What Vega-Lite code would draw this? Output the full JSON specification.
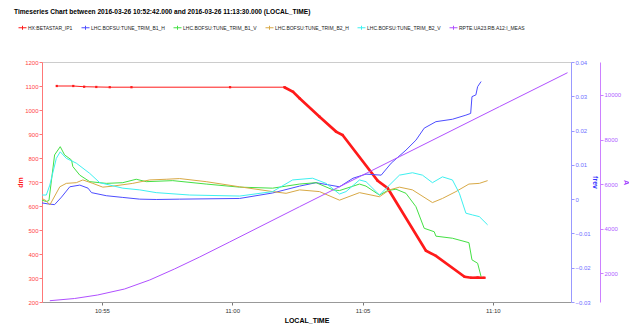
{
  "$schema": "https://vega.github.io/schema/vega-lite/v6.json",
  "width": 529,
  "height": 240,
  "autosize": {"type": "none"},
  "padding": {"left": 42, "top": 62, "right": 58, "bottom": 23},
  "background": "white",
  "title": {
    "text": "Timeseries Chart between 2016-03-26 10:52:42.000 and 2016-03-26 11:13:30.000 (LOCAL_TIME)",
    "anchor": "start",
    "frame": "group",
    "dx": -28,
    "fontSize": 6.6,
    "fontWeight": "bold",
    "color": "#000000",
    "offset": 7
  },
  "config": {
    "font": "Liberation Sans, Arial, sans-serif",
    "view": {"stroke": "#cccccc", "strokeWidth": 1},
    "axis": {"grid": false}
  },
  "data": {
    "format": {"parse": {"time": "date"}},
    "values": [
      {"series": "HX:BETASTAR_IP1", "time": "2016-03-26T10:53:16", "value": 1100},
      {"series": "HX:BETASTAR_IP1", "time": "2016-03-26T10:53:54", "value": 1100},
      {"series": "HX:BETASTAR_IP1", "time": "2016-03-26T10:54:19", "value": 1097},
      {"series": "HX:BETASTAR_IP1", "time": "2016-03-26T10:54:47", "value": 1096},
      {"series": "HX:BETASTAR_IP1", "time": "2016-03-26T10:55:18", "value": 1095},
      {"series": "HX:BETASTAR_IP1", "time": "2016-03-26T10:56:08", "value": 1095},
      {"series": "HX:BETASTAR_IP1", "time": "2016-03-26T10:59:55", "value": 1095},
      {"series": "HX:BETASTAR_IP1", "time": "2016-03-26T11:02:00", "value": 1095},
      {"series": "HX:BETASTAR_IP1", "time": "2016-03-26T11:02:20", "value": 1076},
      {"series": "HX:BETASTAR_IP1", "time": "2016-03-26T11:02:35", "value": 1049},
      {"series": "HX:BETASTAR_IP1", "time": "2016-03-26T11:03:21", "value": 972},
      {"series": "HX:BETASTAR_IP1", "time": "2016-03-26T11:03:59", "value": 910},
      {"series": "HX:BETASTAR_IP1", "time": "2016-03-26T11:04:14", "value": 896},
      {"series": "HX:BETASTAR_IP1", "time": "2016-03-26T11:05:35", "value": 705},
      {"series": "HX:BETASTAR_IP1", "time": "2016-03-26T11:05:58", "value": 674},
      {"series": "HX:BETASTAR_IP1", "time": "2016-03-26T11:07:26", "value": 414},
      {"series": "HX:BETASTAR_IP1", "time": "2016-03-26T11:07:49", "value": 392},
      {"series": "HX:BETASTAR_IP1", "time": "2016-03-26T11:08:55", "value": 305},
      {"series": "HX:BETASTAR_IP1", "time": "2016-03-26T11:09:10", "value": 301},
      {"series": "HX:BETASTAR_IP1", "time": "2016-03-26T11:09:25", "value": 302},
      {"series": "HX:BETASTAR_IP1", "time": "2016-03-26T11:09:41", "value": 301},

      {"series": "LHC.BOFSU:TUNE_TRIM_B1_H", "time": "2016-03-26T10:52:42", "value": -0.0011},
      {"series": "LHC.BOFSU:TUNE_TRIM_B1_H", "time": "2016-03-26T10:52:56", "value": -0.0014},
      {"series": "LHC.BOFSU:TUNE_TRIM_B1_H", "time": "2016-03-26T10:53:11", "value": -0.0016},
      {"series": "LHC.BOFSU:TUNE_TRIM_B1_H", "time": "2016-03-26T10:53:27", "value": 0.0006},
      {"series": "LHC.BOFSU:TUNE_TRIM_B1_H", "time": "2016-03-26T10:53:46", "value": 0.0036},
      {"series": "LHC.BOFSU:TUNE_TRIM_B1_H", "time": "2016-03-26T10:54:09", "value": 0.0041},
      {"series": "LHC.BOFSU:TUNE_TRIM_B1_H", "time": "2016-03-26T10:54:28", "value": 0.0032},
      {"series": "LHC.BOFSU:TUNE_TRIM_B1_H", "time": "2016-03-26T10:54:36", "value": 0.0019},
      {"series": "LHC.BOFSU:TUNE_TRIM_B1_H", "time": "2016-03-26T10:55:10", "value": 0.0010},
      {"series": "LHC.BOFSU:TUNE_TRIM_B1_H", "time": "2016-03-26T10:55:48", "value": 0.0005},
      {"series": "LHC.BOFSU:TUNE_TRIM_B1_H", "time": "2016-03-26T10:56:27", "value": 0.0000},
      {"series": "LHC.BOFSU:TUNE_TRIM_B1_H", "time": "2016-03-26T10:57:05", "value": -0.0001},
      {"series": "LHC.BOFSU:TUNE_TRIM_B1_H", "time": "2016-03-26T10:57:59", "value": 0.0000},
      {"series": "LHC.BOFSU:TUNE_TRIM_B1_H", "time": "2016-03-26T11:00:17", "value": 0.0002},
      {"series": "LHC.BOFSU:TUNE_TRIM_B1_H", "time": "2016-03-26T11:01:33", "value": 0.0018},
      {"series": "LHC.BOFSU:TUNE_TRIM_B1_H", "time": "2016-03-26T11:02:35", "value": 0.0038},
      {"series": "LHC.BOFSU:TUNE_TRIM_B1_H", "time": "2016-03-26T11:03:13", "value": 0.0048},
      {"series": "LHC.BOFSU:TUNE_TRIM_B1_H", "time": "2016-03-26T11:04:07", "value": 0.0036},
      {"series": "LHC.BOFSU:TUNE_TRIM_B1_H", "time": "2016-03-26T11:04:38", "value": 0.0061},
      {"series": "LHC.BOFSU:TUNE_TRIM_B1_H", "time": "2016-03-26T11:05:08", "value": 0.0073},
      {"series": "LHC.BOFSU:TUNE_TRIM_B1_H", "time": "2016-03-26T11:05:43", "value": 0.0070},
      {"series": "LHC.BOFSU:TUNE_TRIM_B1_H", "time": "2016-03-26T11:06:06", "value": 0.0105},
      {"series": "LHC.BOFSU:TUNE_TRIM_B1_H", "time": "2016-03-26T11:06:40", "value": 0.0143},
      {"series": "LHC.BOFSU:TUNE_TRIM_B1_H", "time": "2016-03-26T11:07:03", "value": 0.0172},
      {"series": "LHC.BOFSU:TUNE_TRIM_B1_H", "time": "2016-03-26T11:07:22", "value": 0.0207},
      {"series": "LHC.BOFSU:TUNE_TRIM_B1_H", "time": "2016-03-26T11:07:49", "value": 0.0226},
      {"series": "LHC.BOFSU:TUNE_TRIM_B1_H", "time": "2016-03-26T11:08:27", "value": 0.0233},
      {"series": "LHC.BOFSU:TUNE_TRIM_B1_H", "time": "2016-03-26T11:08:58", "value": 0.0245},
      {"series": "LHC.BOFSU:TUNE_TRIM_B1_H", "time": "2016-03-26T11:09:09", "value": 0.0250},
      {"series": "LHC.BOFSU:TUNE_TRIM_B1_H", "time": "2016-03-26T11:09:12", "value": 0.0299},
      {"series": "LHC.BOFSU:TUNE_TRIM_B1_H", "time": "2016-03-26T11:09:21", "value": 0.0304},
      {"series": "LHC.BOFSU:TUNE_TRIM_B1_H", "time": "2016-03-26T11:09:25", "value": 0.0328},
      {"series": "LHC.BOFSU:TUNE_TRIM_B1_H", "time": "2016-03-26T11:09:33", "value": 0.0343},

      {"series": "LHC.BOFSU:TUNE_TRIM_B1_V", "time": "2016-03-26T10:52:42", "value": -0.0003},
      {"series": "LHC.BOFSU:TUNE_TRIM_B1_V", "time": "2016-03-26T10:52:52", "value": -0.0007},
      {"series": "LHC.BOFSU:TUNE_TRIM_B1_V", "time": "2016-03-26T10:52:58", "value": -0.0004},
      {"series": "LHC.BOFSU:TUNE_TRIM_B1_V", "time": "2016-03-26T10:53:11", "value": 0.0129},
      {"series": "LHC.BOFSU:TUNE_TRIM_B1_V", "time": "2016-03-26T10:53:24", "value": 0.0153},
      {"series": "LHC.BOFSU:TUNE_TRIM_B1_V", "time": "2016-03-26T10:53:34", "value": 0.0129},
      {"series": "LHC.BOFSU:TUNE_TRIM_B1_V", "time": "2016-03-26T10:53:50", "value": 0.0114},
      {"series": "LHC.BOFSU:TUNE_TRIM_B1_V", "time": "2016-03-26T10:53:53", "value": 0.0095},
      {"series": "LHC.BOFSU:TUNE_TRIM_B1_V", "time": "2016-03-26T10:54:09", "value": 0.0070},
      {"series": "LHC.BOFSU:TUNE_TRIM_B1_V", "time": "2016-03-26T10:54:32", "value": 0.0051},
      {"series": "LHC.BOFSU:TUNE_TRIM_B1_V", "time": "2016-03-26T10:55:10", "value": 0.0046},
      {"series": "LHC.BOFSU:TUNE_TRIM_B1_V", "time": "2016-03-26T10:55:48", "value": 0.0048},
      {"series": "LHC.BOFSU:TUNE_TRIM_B1_V", "time": "2016-03-26T10:56:19", "value": 0.0058},
      {"series": "LHC.BOFSU:TUNE_TRIM_B1_V", "time": "2016-03-26T10:56:42", "value": 0.0051},
      {"series": "LHC.BOFSU:TUNE_TRIM_B1_V", "time": "2016-03-26T10:57:43", "value": 0.0054},
      {"series": "LHC.BOFSU:TUNE_TRIM_B1_V", "time": "2016-03-26T10:59:00", "value": 0.0044},
      {"series": "LHC.BOFSU:TUNE_TRIM_B1_V", "time": "2016-03-26T11:00:17", "value": 0.0035},
      {"series": "LHC.BOFSU:TUNE_TRIM_B1_V", "time": "2016-03-26T11:01:33", "value": 0.0032},
      {"series": "LHC.BOFSU:TUNE_TRIM_B1_V", "time": "2016-03-26T11:02:04", "value": 0.0038},
      {"series": "LHC.BOFSU:TUNE_TRIM_B1_V", "time": "2016-03-26T11:02:35", "value": 0.0044},
      {"series": "LHC.BOFSU:TUNE_TRIM_B1_V", "time": "2016-03-26T11:03:13", "value": 0.0048},
      {"series": "LHC.BOFSU:TUNE_TRIM_B1_V", "time": "2016-03-26T11:03:52", "value": 0.0027},
      {"series": "LHC.BOFSU:TUNE_TRIM_B1_V", "time": "2016-03-26T11:04:07", "value": 0.0025},
      {"series": "LHC.BOFSU:TUNE_TRIM_B1_V", "time": "2016-03-26T11:04:53", "value": 0.0044},
      {"series": "LHC.BOFSU:TUNE_TRIM_B1_V", "time": "2016-03-26T11:05:08", "value": 0.0038},
      {"series": "LHC.BOFSU:TUNE_TRIM_B1_V", "time": "2016-03-26T11:05:39", "value": 0.0012},
      {"series": "LHC.BOFSU:TUNE_TRIM_B1_V", "time": "2016-03-26T11:05:58", "value": 0.0025},
      {"series": "LHC.BOFSU:TUNE_TRIM_B1_V", "time": "2016-03-26T11:06:17", "value": 0.0029},
      {"series": "LHC.BOFSU:TUNE_TRIM_B1_V", "time": "2016-03-26T11:06:40", "value": 0.0017},
      {"series": "LHC.BOFSU:TUNE_TRIM_B1_V", "time": "2016-03-26T11:07:03", "value": -0.0022},
      {"series": "LHC.BOFSU:TUNE_TRIM_B1_V", "time": "2016-03-26T11:07:22", "value": -0.0085},
      {"series": "LHC.BOFSU:TUNE_TRIM_B1_V", "time": "2016-03-26T11:07:45", "value": -0.0095},
      {"series": "LHC.BOFSU:TUNE_TRIM_B1_V", "time": "2016-03-26T11:07:49", "value": -0.0108},
      {"series": "LHC.BOFSU:TUNE_TRIM_B1_V", "time": "2016-03-26T11:08:27", "value": -0.0114},
      {"series": "LHC.BOFSU:TUNE_TRIM_B1_V", "time": "2016-03-26T11:09:05", "value": -0.0127},
      {"series": "LHC.BOFSU:TUNE_TRIM_B1_V", "time": "2016-03-26T11:09:12", "value": -0.0177},
      {"series": "LHC.BOFSU:TUNE_TRIM_B1_V", "time": "2016-03-26T11:09:25", "value": -0.0187},
      {"series": "LHC.BOFSU:TUNE_TRIM_B1_V", "time": "2016-03-26T11:09:33", "value": -0.0226},

      {"series": "LHC.BOFSU:TUNE_TRIM_B2_H", "time": "2016-03-26T10:52:42", "value": 0.0002},
      {"series": "LHC.BOFSU:TUNE_TRIM_B2_H", "time": "2016-03-26T10:52:52", "value": -0.0005},
      {"series": "LHC.BOFSU:TUNE_TRIM_B2_H", "time": "2016-03-26T10:53:00", "value": -0.0017},
      {"series": "LHC.BOFSU:TUNE_TRIM_B2_H", "time": "2016-03-26T10:53:23", "value": 0.0036},
      {"series": "LHC.BOFSU:TUNE_TRIM_B2_H", "time": "2016-03-26T10:53:38", "value": 0.0046},
      {"series": "LHC.BOFSU:TUNE_TRIM_B2_H", "time": "2016-03-26T10:54:01", "value": 0.0048},
      {"series": "LHC.BOFSU:TUNE_TRIM_B2_H", "time": "2016-03-26T10:54:16", "value": 0.0056},
      {"series": "LHC.BOFSU:TUNE_TRIM_B2_H", "time": "2016-03-26T10:54:39", "value": 0.0046},
      {"series": "LHC.BOFSU:TUNE_TRIM_B2_H", "time": "2016-03-26T10:55:02", "value": 0.0035},
      {"series": "LHC.BOFSU:TUNE_TRIM_B2_H", "time": "2016-03-26T10:55:25", "value": 0.0038},
      {"series": "LHC.BOFSU:TUNE_TRIM_B2_H", "time": "2016-03-26T10:56:11", "value": 0.0046},
      {"series": "LHC.BOFSU:TUNE_TRIM_B2_H", "time": "2016-03-26T10:56:50", "value": 0.0056},
      {"series": "LHC.BOFSU:TUNE_TRIM_B2_H", "time": "2016-03-26T10:57:28", "value": 0.0058},
      {"series": "LHC.BOFSU:TUNE_TRIM_B2_H", "time": "2016-03-26T10:57:59", "value": 0.0060},
      {"series": "LHC.BOFSU:TUNE_TRIM_B2_H", "time": "2016-03-26T10:59:00", "value": 0.0051},
      {"series": "LHC.BOFSU:TUNE_TRIM_B2_H", "time": "2016-03-26T11:00:17", "value": 0.0036},
      {"series": "LHC.BOFSU:TUNE_TRIM_B2_H", "time": "2016-03-26T11:01:33", "value": 0.0022},
      {"series": "LHC.BOFSU:TUNE_TRIM_B2_H", "time": "2016-03-26T11:02:04", "value": 0.0017},
      {"series": "LHC.BOFSU:TUNE_TRIM_B2_H", "time": "2016-03-26T11:02:35", "value": 0.0027},
      {"series": "LHC.BOFSU:TUNE_TRIM_B2_H", "time": "2016-03-26T11:03:21", "value": 0.0022},
      {"series": "LHC.BOFSU:TUNE_TRIM_B2_H", "time": "2016-03-26T11:04:07", "value": -0.0003},
      {"series": "LHC.BOFSU:TUNE_TRIM_B2_H", "time": "2016-03-26T11:04:53", "value": 0.0019},
      {"series": "LHC.BOFSU:TUNE_TRIM_B2_H", "time": "2016-03-26T11:05:39", "value": 0.0007},
      {"series": "LHC.BOFSU:TUNE_TRIM_B2_H", "time": "2016-03-26T11:06:02", "value": 0.0027},
      {"series": "LHC.BOFSU:TUNE_TRIM_B2_H", "time": "2016-03-26T11:06:25", "value": 0.0035},
      {"series": "LHC.BOFSU:TUNE_TRIM_B2_H", "time": "2016-03-26T11:06:55", "value": 0.0027},
      {"series": "LHC.BOFSU:TUNE_TRIM_B2_H", "time": "2016-03-26T11:07:41", "value": -0.0010},
      {"series": "LHC.BOFSU:TUNE_TRIM_B2_H", "time": "2016-03-26T11:08:04", "value": 0.0002},
      {"series": "LHC.BOFSU:TUNE_TRIM_B2_H", "time": "2016-03-26T11:08:35", "value": 0.0022},
      {"series": "LHC.BOFSU:TUNE_TRIM_B2_H", "time": "2016-03-26T11:09:05", "value": 0.0044},
      {"series": "LHC.BOFSU:TUNE_TRIM_B2_H", "time": "2016-03-26T11:09:29", "value": 0.0046},
      {"series": "LHC.BOFSU:TUNE_TRIM_B2_H", "time": "2016-03-26T11:09:48", "value": 0.0054},

      {"series": "LHC.BOFSU:TUNE_TRIM_B2_V", "time": "2016-03-26T10:52:42", "value": 0.0012},
      {"series": "LHC.BOFSU:TUNE_TRIM_B2_V", "time": "2016-03-26T10:52:52", "value": 0.0012},
      {"series": "LHC.BOFSU:TUNE_TRIM_B2_V", "time": "2016-03-26T10:53:00", "value": 0.0041},
      {"series": "LHC.BOFSU:TUNE_TRIM_B2_V", "time": "2016-03-26T10:53:15", "value": 0.0119},
      {"series": "LHC.BOFSU:TUNE_TRIM_B2_V", "time": "2016-03-26T10:53:24", "value": 0.0138},
      {"series": "LHC.BOFSU:TUNE_TRIM_B2_V", "time": "2016-03-26T10:53:38", "value": 0.0119},
      {"series": "LHC.BOFSU:TUNE_TRIM_B2_V", "time": "2016-03-26T10:54:01", "value": 0.0105},
      {"series": "LHC.BOFSU:TUNE_TRIM_B2_V", "time": "2016-03-26T10:54:32", "value": 0.0075},
      {"series": "LHC.BOFSU:TUNE_TRIM_B2_V", "time": "2016-03-26T10:54:55", "value": 0.0048},
      {"series": "LHC.BOFSU:TUNE_TRIM_B2_V", "time": "2016-03-26T10:55:48", "value": 0.0032},
      {"series": "LHC.BOFSU:TUNE_TRIM_B2_V", "time": "2016-03-26T10:56:27", "value": 0.0027},
      {"series": "LHC.BOFSU:TUNE_TRIM_B2_V", "time": "2016-03-26T10:57:05", "value": 0.0019},
      {"series": "LHC.BOFSU:TUNE_TRIM_B2_V", "time": "2016-03-26T10:58:22", "value": 0.0012},
      {"series": "LHC.BOFSU:TUNE_TRIM_B2_V", "time": "2016-03-26T11:00:17", "value": 0.0009},
      {"series": "LHC.BOFSU:TUNE_TRIM_B2_V", "time": "2016-03-26T11:01:33", "value": 0.0022},
      {"series": "LHC.BOFSU:TUNE_TRIM_B2_V", "time": "2016-03-26T11:02:19", "value": 0.0056},
      {"series": "LHC.BOFSU:TUNE_TRIM_B2_V", "time": "2016-03-26T11:03:05", "value": 0.0061},
      {"series": "LHC.BOFSU:TUNE_TRIM_B2_V", "time": "2016-03-26T11:03:36", "value": 0.0046},
      {"series": "LHC.BOFSU:TUNE_TRIM_B2_V", "time": "2016-03-26T11:04:07", "value": 0.0015},
      {"series": "LHC.BOFSU:TUNE_TRIM_B2_V", "time": "2016-03-26T11:04:22", "value": 0.0022},
      {"series": "LHC.BOFSU:TUNE_TRIM_B2_V", "time": "2016-03-26T11:04:53", "value": 0.0056},
      {"series": "LHC.BOFSU:TUNE_TRIM_B2_V", "time": "2016-03-26T11:05:08", "value": 0.0051},
      {"series": "LHC.BOFSU:TUNE_TRIM_B2_V", "time": "2016-03-26T11:05:39", "value": 0.0012},
      {"series": "LHC.BOFSU:TUNE_TRIM_B2_V", "time": "2016-03-26T11:05:58", "value": 0.0036},
      {"series": "LHC.BOFSU:TUNE_TRIM_B2_V", "time": "2016-03-26T11:06:25", "value": 0.0070},
      {"series": "LHC.BOFSU:TUNE_TRIM_B2_V", "time": "2016-03-26T11:06:55", "value": 0.0077},
      {"series": "LHC.BOFSU:TUNE_TRIM_B2_V", "time": "2016-03-26T11:07:18", "value": 0.0070},
      {"series": "LHC.BOFSU:TUNE_TRIM_B2_V", "time": "2016-03-26T11:07:41", "value": 0.0048},
      {"series": "LHC.BOFSU:TUNE_TRIM_B2_V", "time": "2016-03-26T11:08:04", "value": 0.0065},
      {"series": "LHC.BOFSU:TUNE_TRIM_B2_V", "time": "2016-03-26T11:08:27", "value": 0.0056},
      {"series": "LHC.BOFSU:TUNE_TRIM_B2_V", "time": "2016-03-26T11:08:43", "value": 0.0017},
      {"series": "LHC.BOFSU:TUNE_TRIM_B2_V", "time": "2016-03-26T11:08:58", "value": -0.0041},
      {"series": "LHC.BOFSU:TUNE_TRIM_B2_V", "time": "2016-03-26T11:09:13", "value": -0.0046},
      {"series": "LHC.BOFSU:TUNE_TRIM_B2_V", "time": "2016-03-26T11:09:29", "value": -0.0051},
      {"series": "LHC.BOFSU:TUNE_TRIM_B2_V", "time": "2016-03-26T11:09:48", "value": -0.0075},

      {"series": "RPTE.UA23.RB.A12:I_MEAS", "time": "2016-03-26T10:53:00", "value": 771},
      {"series": "RPTE.UA23.RB.A12:I_MEAS", "time": "2016-03-26T10:53:57", "value": 870},
      {"series": "RPTE.UA23.RB.A12:I_MEAS", "time": "2016-03-26T10:54:50", "value": 1027},
      {"series": "RPTE.UA23.RB.A12:I_MEAS", "time": "2016-03-26T10:55:52", "value": 1296},
      {"series": "RPTE.UA23.RB.A12:I_MEAS", "time": "2016-03-26T10:56:50", "value": 1700},
      {"series": "RPTE.UA23.RB.A12:I_MEAS", "time": "2016-03-26T10:57:47", "value": 2193},
      {"series": "RPTE.UA23.RB.A12:I_MEAS", "time": "2016-03-26T10:58:45", "value": 2732},
      {"series": "RPTE.UA23.RB.A12:I_MEAS", "time": "2016-03-26T10:59:54", "value": 3405},
      {"series": "RPTE.UA23.RB.A12:I_MEAS", "time": "2016-03-26T11:02:35", "value": 4988},
      {"series": "RPTE.UA23.RB.A12:I_MEAS", "time": "2016-03-26T11:06:25", "value": 7231},
      {"series": "RPTE.UA23.RB.A12:I_MEAS", "time": "2016-03-26T11:10:15", "value": 9474},
      {"series": "RPTE.UA23.RB.A12:I_MEAS", "time": "2016-03-26T11:12:52", "value": 11000}
    ]
  },
  "encoding": {
    "x": {
      "field": "time",
      "type": "temporal",
      "scale": {
        "domain": [
          {"year": 2016, "month": 3, "date": 26, "hours": 10, "minutes": 52, "seconds": 42},
          {"year": 2016, "month": 3, "date": 26, "hours": 11, "minutes": 13, "seconds": 0}
        ]
      },
      "axis": {
        "title": "LOCAL_TIME",
        "titleFontWeight": "bold",
        "titleFontSize": 7,
        "titleColor": "#000000",
        "titlePadding": 3,
        "format": "%H:%M",
        "values": [
          {"year": 2016, "month": 3, "date": 26, "hours": 10, "minutes": 55},
          {"year": 2016, "month": 3, "date": 26, "hours": 11, "minutes": 0},
          {"year": 2016, "month": 3, "date": 26, "hours": 11, "minutes": 5},
          {"year": 2016, "month": 3, "date": 26, "hours": 11, "minutes": 10}
        ],
        "labelFontSize": 6,
        "labelColor": "#333333",
        "labelPadding": 2,
        "tickSize": 3,
        "tickColor": "#777777",
        "domainColor": "#999999"
      }
    }
  },
  "layer": [
    {
      "transform": [{"filter": "datum.series === 'HX:BETASTAR_IP1'"}],
      "encoding": {
        "y": {
          "field": "value",
          "type": "quantitative",
          "scale": {"domain": [200, 1200], "nice": false, "zero": false},
          "axis": {
            "orient": "left",
            "title": "dm",
            "titleColor": "#ff2222",
            "titleFontWeight": "bold",
            "titleFontSize": 7,
            "titleX": -22,
            "titleY": 120,
            "titleBaseline": "middle",
            "titleAlign": "center",
            "values": [200, 300, 400, 500, 600, 700, 800, 900, 1000, 1100, 1200],
            "format": "d",
            "labelColor": "#ff4444",
            "labelFontSize": 6,
            "labelPadding": 1,
            "tickSize": 3,
            "tickColor": "#ff7777",
            "domainColor": "#ff7777"
          }
        }
      },
      "layer": [
        {
          "mark": {"type": "line", "strokeWidth": 1},
          "encoding": {
            "color": {
              "field": "series",
              "type": "nominal",
              "scale": {
                "domain": ["HX:BETASTAR_IP1", "LHC.BOFSU:TUNE_TRIM_B1_H", "LHC.BOFSU:TUNE_TRIM_B1_V", "LHC.BOFSU:TUNE_TRIM_B2_H", "LHC.BOFSU:TUNE_TRIM_B2_V", "RPTE.UA23.RB.A12:I_MEAS"],
                "range": ["#ff1a1a", "#4d4dff", "#44e044", "#d8a946", "#3ef0f0", "#b050ff"]
              },
              "legend": {
                "title": null,
                "orient": "none",
                "legendX": -24,
                "legendY": -39,
                "direction": "horizontal",
                "symbolType": "M-1,0L1,0M0,-0.5L0,0.5",
                "symbolSize": 64,
                "symbolStrokeWidth": 1,
                "labelFontSize": 5,
                "labelColor": "#222222",
                "labelOffset": 1,
                "columnPadding": 6
              }
            }
          }
        },
        {
          "transform": [{"filter": {"field": "time", "gte": {"year": 2016, "month": 3, "date": 26, "hours": 11, "minutes": 2, "seconds": 0}}}],
          "mark": {"type": "line", "strokeWidth": 2.7, "color": "#ff1a1a"}
        },
        {
          "mark": {"type": "point", "shape": "square", "filled": true, "size": 5, "color": "#ff1a1a", "opacity": 1}
        }
      ]
    },
    {
      "transform": [{"filter": "indexof(datum.series, 'TUNE_TRIM') >= 0"}],
      "mark": {"type": "line", "strokeWidth": 1},
      "encoding": {
        "y": {
          "field": "value",
          "type": "quantitative",
          "scale": {"domain": [-0.03, 0.04], "nice": false, "zero": false},
          "axis": {
            "orient": "right",
            "title": "frev",
            "titleColor": "#3333ff",
            "titleFontWeight": "bold",
            "titleFontSize": 7,
            "titleX": 23,
            "titleY": 120,
            "titleBaseline": "middle",
            "titleAlign": "center",
            "values": [-0.03, -0.02, -0.01, 0, 0.01, 0.02, 0.03, 0.04],
            "format": ".2~f",
            "labelColor": "#6f6fff",
            "labelFontSize": 6,
            "labelPadding": 1,
            "tickSize": 3,
            "tickColor": "#9999ff",
            "domainColor": "#9999ff"
          }
        },
        "color": {"field": "series", "type": "nominal"}
      }
    },
    {
      "transform": [{"filter": "datum.series === 'RPTE.UA23.RB.A12:I_MEAS'"}],
      "mark": {"type": "line", "strokeWidth": 1},
      "encoding": {
        "y": {
          "field": "value",
          "type": "quantitative",
          "scale": {"domain": [713, 11480], "nice": false, "zero": false},
          "axis": {
            "orient": "right",
            "offset": 29,
            "title": "A",
            "titleColor": "#a040ff",
            "titleFontWeight": "bold",
            "titleFontSize": 7,
            "titleX": 25,
            "titleY": 120,
            "titleBaseline": "middle",
            "titleAlign": "center",
            "values": [2000, 4000, 6000, 8000, 10000],
            "format": "d",
            "labelColor": "#b060ff",
            "labelFontSize": 6,
            "labelPadding": 1,
            "tickSize": 3,
            "tickColor": "#cc80ff",
            "domainColor": "#cc80ff"
          }
        },
        "color": {"field": "series", "type": "nominal"}
      }
    }
  ],
  "resolve": {"scale": {"y": "independent"}}
}
